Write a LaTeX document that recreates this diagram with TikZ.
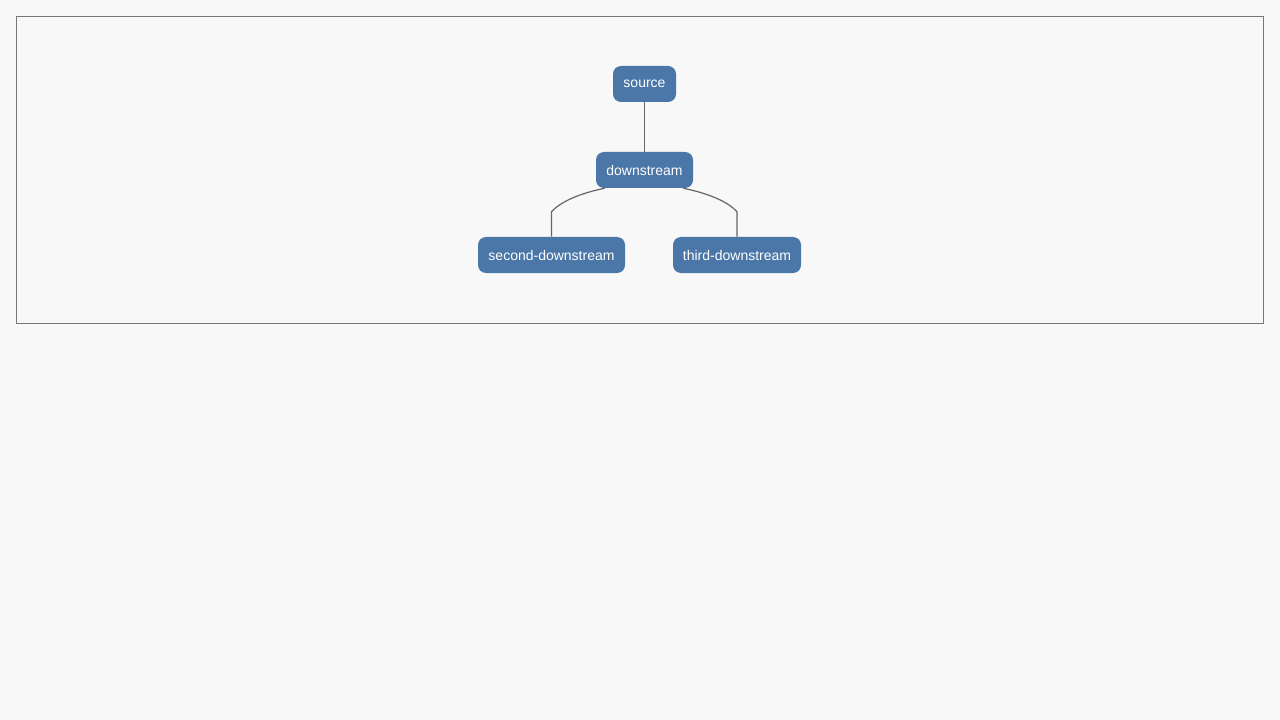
\documentclass[tikz,border=0pt]{standalone}
\usepackage{fontspec}
\setmainfont{Liberation Sans}
\usepackage{tikz}
\definecolor{pagebg}{HTML}{F8F8F8}
\definecolor{framegray}{HTML}{777777}
\definecolor{nodeblue}{HTML}{4A76A8}
\definecolor{edgegray}{HTML}{666666}
\tikzset{
  depnode/.style={fill=nodeblue,text=white,rounded corners=6pt,minimum height=27pt,inner sep=0pt,font=\fontsize{10.5}{12}\selectfont},
  depedge/.style={draw=edgegray,line width=0.9pt}
}
\begin{document}
\begin{tikzpicture}[x=0.75pt,y=-0.75pt]
\fill [pagebg] (0,0) rectangle (1280,720);
\draw [framegray,line width=0.75pt] (16.5,16.5) rectangle (1263.5,323.5);
\node [depnode,minimum width=47.25pt] (source) at (644.5,84) {source};
\node [depnode,minimum width=72.75pt] (downstream) at (644.5,170) {downstream};
\node [depnode,minimum width=110.25pt] (second) at (551.5,255) {second-downstream};
\node [depnode,minimum width=96pt] (third) at (737,255) {third-downstream};
\draw [depedge] (source.south) -- (downstream.north);
\draw [depedge] ([xshift=6.75pt]downstream.south west) .. controls +(-18.75pt,-3.75pt) and +(6.75pt,7.5pt) .. ([yshift=18.75pt]second.north) -- (second.north);
\draw [depedge] ([xshift=-7.5pt]downstream.south east) .. controls +(18.75pt,-3.75pt) and +(-6.75pt,7.5pt) .. ([yshift=18.75pt]third.north) -- (third.north);
\end{tikzpicture}
\end{document}
